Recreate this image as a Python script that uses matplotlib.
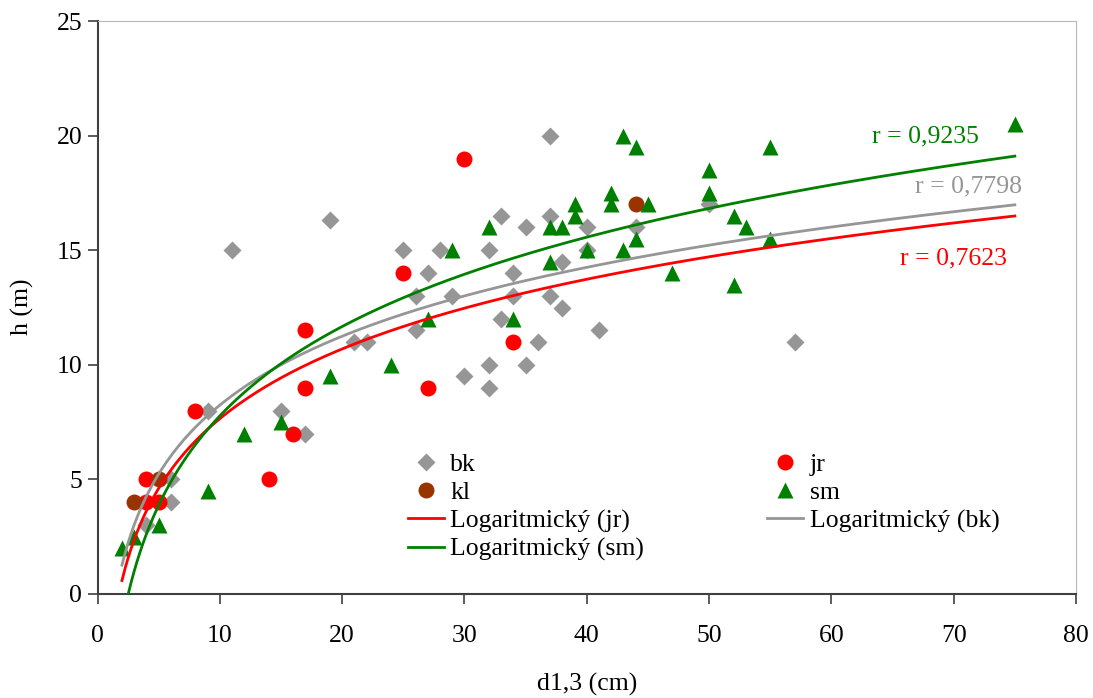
import numpy as np
import matplotlib.pyplot as plt

plt.rcParams['font.family'] = ['Liberation Serif', 'DejaVu Serif']
plt.rcParams['font.size'] = 18.5

# series (d1,3 in cm, h in m)
bk_x = [4, 6, 6, 9, 11, 15, 17, 19, 21, 22, 25, 26, 26, 27, 28, 29, 30, 32, 32, 32,
        33, 33, 34, 34, 35, 35, 36, 37, 37, 37, 38, 38, 40, 40, 41, 44, 50, 57]
bk_y = [3, 4, 5, 8, 15, 8, 7, 16.3, 11, 11, 15, 13, 11.5, 14, 15, 13, 9.5, 15, 10, 9,
        16.5, 12, 14, 13, 16, 10, 11, 20, 16.5, 13, 14.5, 12.5, 16, 15, 11.5, 16, 17, 11]

jr_x = [4, 4, 5, 8, 14, 16, 17, 17, 25, 27, 30, 34]
jr_y = [5, 4, 4, 8, 5, 7, 11.5, 9, 14, 9, 19, 11]

kl_x = [3, 5, 44]
kl_y = [4, 5, 17]

sm_x = [2, 3, 5, 9, 12, 15, 19, 24, 27, 29, 32, 34, 37, 37, 38, 39, 39, 40, 42, 42,
        43, 43, 44, 44, 45, 47, 50, 50, 52, 52, 53, 55, 55, 75]
sm_y = [2, 2.5, 3, 4.5, 7, 7.5, 9.5, 10, 12, 15, 16, 12, 16, 14.5, 16, 17, 16.5, 15, 17.5, 17,
        20, 15, 19.5, 15.5, 17, 14, 18.5, 17.5, 16.5, 13.5, 16, 19.5, 15.5, 20.5]

r_labels = {'sm': 'r = 0,9235', 'bk': 'r = 0,7798', 'jr': 'r = 0,7623'}

c_bk = '#969696'
c_jr = '#ff0000'
c_kl = '#993300'
c_sm = '#008000'

fig = plt.figure(figsize=(10.93, 6.98), dpi=100)
ax = fig.add_axes([97.5 / 1093, 104 / 698, (1076 - 97.5) / 1093, 573 / 698])

h_bk, = ax.plot(bk_x, bk_y, 'D', color=c_bk, ms=9, mec='none', label='bk', zorder=3)
h_jr, = ax.plot(jr_x, jr_y, 'o', color=c_jr, ms=11.5, mec='none', label='jr', zorder=3)
h_kl, = ax.plot(kl_x, kl_y, 'o', color=c_kl, ms=11.5, mec='none', label='kl', zorder=3)
h_sm, = ax.plot(sm_x, sm_y, '^', color=c_sm, ms=12, mec='none', label='sm', zorder=3)

# logarithmic trendlines y = a*ln(x) + b
all_x = bk_x + jr_x + kl_x + sm_x
xx = np.linspace(min(all_x), max(all_x), 300)
lines = {}
for name, xs, ys, col in [('jr', jr_x, jr_y, c_jr), ('bk', bk_x, bk_y, c_bk), ('sm', sm_x, sm_y, c_sm)]:
    a, b = np.polyfit(np.log(xs), ys, 1)
    lines[name], = ax.plot(xx, a * np.log(xx) + b, color=col, lw=2.0,
                           label='Logaritmický (%s)' % name, zorder=4)

ax.text(67.7, 19.98, r_labels['sm'], color=c_sm, ha='center', va='center')
ax.text(71.2, 17.76, r_labels['bk'], color=c_bk, ha='center', va='center')
ax.text(70.0, 14.66, r_labels['jr'], color=c_jr, ha='center', va='center')

ax.set_xlim(0, 80)
ax.set_ylim(0, 25)
ax.set_xticks(range(0, 81, 10))
ax.set_yticks(range(0, 26, 5))
ax.tick_params(axis='both', direction='out', length=7, width=1.2, color='#404040')
ax.tick_params(axis='x', pad=15)
ax.tick_params(axis='y', pad=4)
for s in ['left', 'bottom']:
    ax.spines[s].set_color('#404040')
    ax.spines[s].set_linewidth(1.5)
for s in ['top', 'right']:
    ax.spines[s].set_color('#b8b8b8')
    ax.spines[s].set_linewidth(0.8)

fig.text(587 / 1093, 0.02, 'd1,3 (cm)', ha='center', va='center')
fig.text(22 / 1093, (698 - 307) / 698, 'h (m)', rotation=90, ha='center', va='center')

handles = [h_bk, h_kl, lines['jr'], lines['sm'], h_jr, h_sm, lines['bk']]
fig.legend(handles=handles, labels=[h.get_label() for h in handles], ncol=2,
           loc='upper left', bbox_to_anchor=(395 / 1093, (698 - 440) / 698),
           frameon=False, borderpad=0, handlelength=1.4, handletextpad=0.25,
           columnspacing=4.8, labelspacing=0.2, markerscale=1.0)

fig.savefig('out.png', dpi=100)
